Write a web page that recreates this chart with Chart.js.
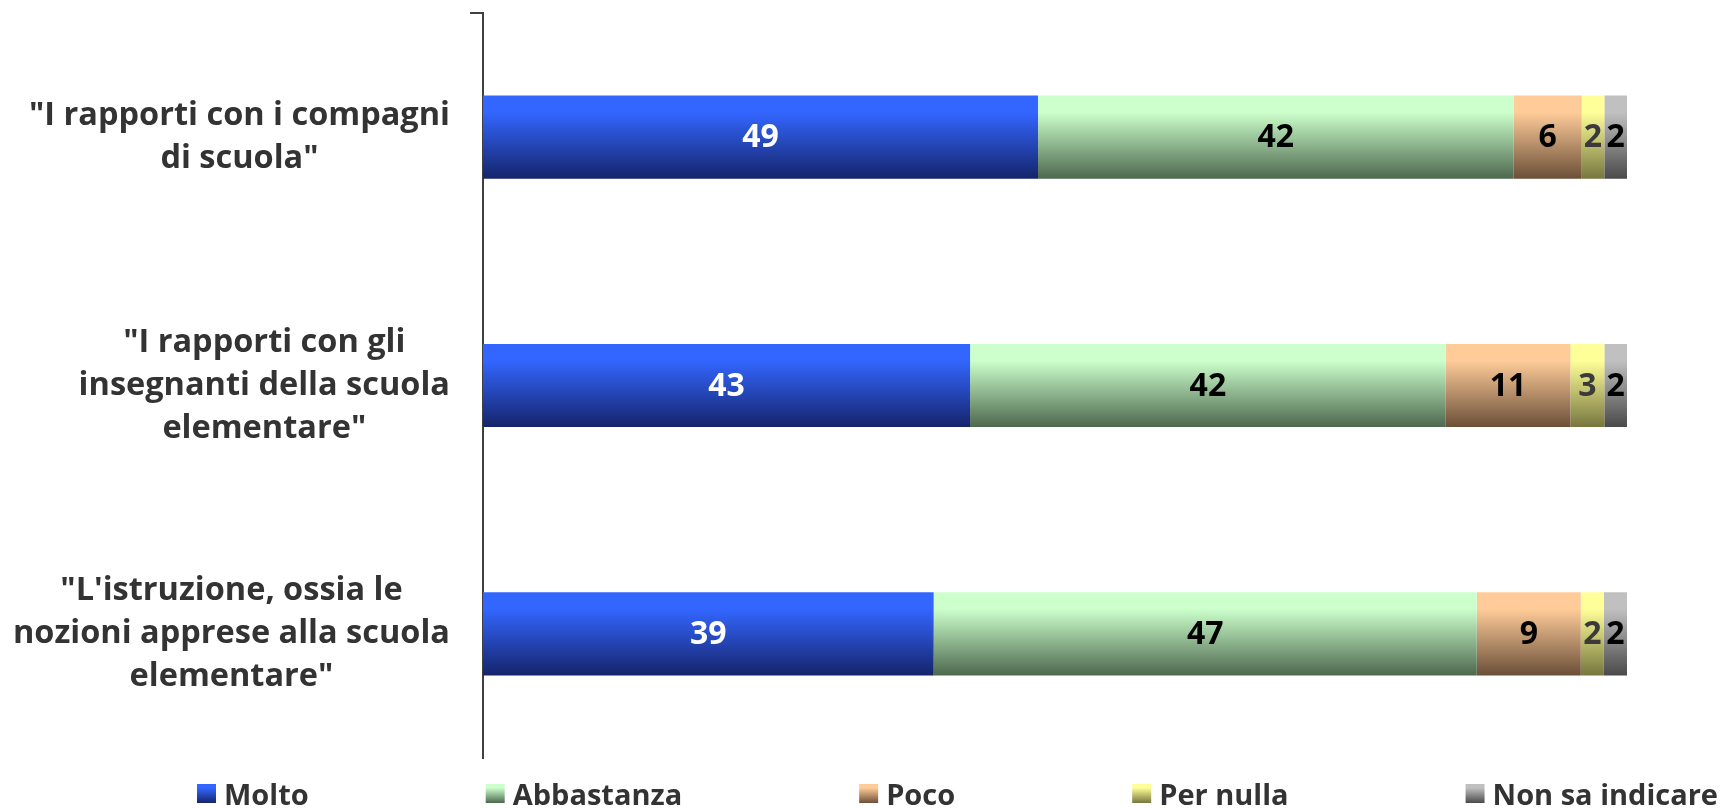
<!DOCTYPE html>
<html lang="it">
<head>
<meta charset="utf-8">
<title>Rapporti e istruzione alla scuola elementare</title>
<script src="https://cdn.jsdelivr.net/npm/chart.js@4/dist/chart.umd.min.js"></script>
<style>
  html, body { margin: 0; padding: 0; background: #fff; }
  #chart { display: block; }
</style>
</head>
<body>
<canvas id="chart" width="1721" height="808"></canvas>
<script>
// categories (one per bar)
var categories = [
  ['"I rapporti con i compagni', 'di scuola"'],
  ['"I rapporti con gli', 'insegnanti della scuola', 'elementare"'],
  ['"L\'istruzione, ossia le', 'nozioni apprese alla scuola', 'elementare"']
];

// answers, in percent
var molto = [49, 43, 39];
var abbastanza = [42, 42, 47];
var poco = [6, 11, 9];
var perNulla = [2, 3, 2];
var nonSa = [2, 2, 2];

var seriesNames = ["Molto", "Abbastanza", "Poco", "Per nulla", "Non sa indicare"];

var FONT = "'Open Sans', 'Noto Sans', sans-serif";
var BAR_PCT = 0.335;

// each series: [top colour, bottom colour, label colour]
var styles = [
  ["#3366FF", "#15246A", "#FFFFFF"],
  ["#CCFFCC", "#4D684E", "#000000"],
  ["#FFCC99", "#6A4F38", "#000000"],
  ["#FFFF99", "#76763F", "#3A3A3A"],
  ["#C0C0C0", "#4A4A4A", "#000000"]
];

var allSeries = [molto, abbastanza, poco, perNulla, nonSa];

// rows are drawn as 100% stacks
var rowTotals = categories.map(function (c, j) {
  return allSeries.reduce(function (sum, s) { return sum + s[j]; }, 0);
});

function shares(values) {
  return values.map(function (v, j) { return v / rowTotals[j] * 100; });
}

function makeGradient(ctx2d, y0, y1, top, bottom) {
  var g = ctx2d.createLinearGradient(0, y0, 0, y1);
  g.addColorStop(0, top);
  g.addColorStop(0.2, top);
  g.addColorStop(1, bottom);
  return g;
}

/**
 * Vertical gradient fill for every bar, following the bar's own height.
 */
function barFill(top, bottom) {
  return function (ctx) {
    var chart = ctx.chart;
    var y = chart.scales.y;
    if (!y || ctx.type !== "data") return top;
    var c = y.getPixelForValue(ctx.dataIndex);
    var half = (y.height / chart.data.labels.length) * BAR_PCT / 2;
    if (!isFinite(c) || !isFinite(half) || half <= 0) return top;
    return makeGradient(chart.ctx, c - half, c + half, top, bottom);
  };
}

var datasets = allSeries.map(function (values, i) {
  return {
    label: seriesNames[i],
    data: shares(values),
    raw: values,
    labelColor: styles[i][2],
    backgroundColor: barFill(styles[i][0], styles[i][1]),
    borderWidth: 0,
    categoryPercentage: 1,
    barPercentage: BAR_PCT
  };
});

// numbers in the middle of each segment
var valueLabels = {
  id: "valueLabels",
  afterDatasetsDraw: function (chart) {
    var ctx = chart.ctx;
    ctx.save();
    ctx.font = "bold 32px " + FONT;
    ctx.textAlign = "center";
    ctx.textBaseline = "middle";
    chart.data.datasets.forEach(function (ds, i) {
      chart.getDatasetMeta(i).data.forEach(function (bar, j) {
        var p = bar.getCenterPoint();
        ctx.fillStyle = ds.labelColor;
        ctx.fillText(ds.raw[j], p.x, p.y + 1);
      });
    });
    ctx.restore();
  }
};

// category names: each block centred on its own longest line, right edge on the axis
var categoryLabels = {
  id: "categoryLabels",
  afterDraw: function (chart) {
    var ctx = chart.ctx;
    var y = chart.scales.y;
    var size = 32.5, lineH = 42.9;
    var right = y.right - 33;
    ctx.save();
    ctx.font = "bold " + size + "px " + FONT;
    ctx.fillStyle = "#333333";
    ctx.textAlign = "center";
    ctx.textBaseline = "middle";
    chart.data.labels.forEach(function (lines, i) {
      var widest = Math.max.apply(null, lines.map(function (t) { return ctx.measureText(t).width; }));
      var cx = right - widest / 2;
      var cy = y.getPixelForValue(i);
      lines.forEach(function (t, k) {
        ctx.fillText(t, cx, cy + (k - (lines.length - 1) / 2) * lineH);
      });
    });
    ctx.restore();
  }
};

// legend row under the plot, gradient boxes with equal gaps
var bottomLegend = {
  id: "bottomLegend",
  afterDraw: function (chart) {
    var ctx = chart.ctx;
    var box = 19, gap = 8;
    var start = 197, end = chart.width - 3;
    ctx.save();
    ctx.font = "bold 29px " + FONT;
    var widths = chart.data.datasets.map(function (ds) {
      return box + gap + ctx.measureText(ds.label).width;
    });
    var used = widths.reduce(function (a, b) { return a + b; }, 0);
    var spacing = (end - start - used) / (widths.length - 1);
    var x = start;
    var boxTop = chart.chartArea.bottom + 26;
    chart.data.datasets.forEach(function (ds, i) {
      ctx.fillStyle = makeGradient(ctx, boxTop, boxTop + box, styles[i][0], styles[i][1]);
      ctx.fillRect(x, boxTop, box, box);
      ctx.fillStyle = "#333333";
      ctx.textAlign = "left";
      ctx.textBaseline = "alphabetic";
      ctx.fillText(ds.label, x + box + gap, boxTop + 21);
      x += widths[i] + spacing;
    });
    ctx.restore();
  }
};

var chart = new Chart(document.getElementById("chart"), {
  type: "bar",
  data: {
    labels: categories,
    datasets: datasets
  },
  plugins: [valueLabels, categoryLabels, bottomLegend],
  options: {
    indexAxis: "y",
    responsive: false,
    animation: false,
    layout: {
      padding: { top: 13, right: 94, bottom: 50, left: 0 }
    },
    plugins: {
      legend: { display: false },
      tooltip: { enabled: false }
    },
    scales: {
      x: {
        stacked: true,
        display: false,
        min: 0,
        max: 100
      },
      y: {
        stacked: true,
        afterFit: function (scale) {
          scale.width = 483;
          scale.paddingTop = 0;
          scale.paddingBottom = 0;
        },
        border: { display: true, color: "#404040", width: 2 },
        grid: {
          drawOnChartArea: false,
          tickLength: 13,
          lineWidth: 2,
          color: function (ctx) { return ctx.index === 0 ? "#404040" : "rgba(0,0,0,0)"; }
        },
        ticks: { display: false }
      }
    }
  }
});
</script>
</body>
</html>
